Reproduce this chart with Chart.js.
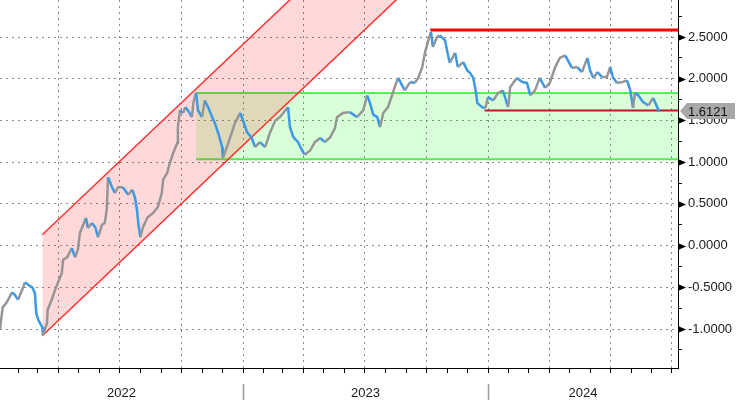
<!DOCTYPE html>
<html>
<head>
<meta charset="utf-8">
<script src="https://cdn.jsdelivr.net/npm/chart.js@4.4.1/dist/chart.umd.min.js"></script>
<style>
html, body { margin: 0; padding: 0; background: #fff; }
</style>
</head>
<body>
<canvas id="myChart" width="736" height="400"></canvas>
<script>
// Serie: dias desde el 1 de enero de 2022 y su valor
const dias = [3, 7, 12, 15, 21, 25, 30, 36, 40, 45, 51, 55, 57, 60, 66, 67, 73, 74, 80, 85,
    89, 95, 97, 103, 110, 115, 119, 122, 127, 131, 134, 140, 145, 149, 155, 159, 162, 164, 170, 174,
    179, 186, 194, 200, 204, 207, 209, 212, 216, 223, 231, 238, 244, 246, 252, 256, 261, 267, 268, 271,
    276, 279, 283, 289, 291, 295, 298, 304, 308, 313, 319, 323, 328, 334, 335, 341, 346, 353, 361, 365,
    371, 378, 383, 390, 398, 405, 413, 420, 428, 432, 435, 440, 447, 453, 457, 465, 472, 480, 487, 495,
    502, 505, 514, 524, 535, 544, 550, 554, 559, 565, 569, 574, 581, 587, 591, 596, 602, 606, 614, 621,
    626, 632, 636, 641, 645, 648, 654, 658, 666, 669, 673, 681, 685, 693, 699, 703, 708, 712, 714, 721,
    726, 730, 738, 745, 752, 760, 763, 773, 781, 788, 793, 800, 807, 815, 822, 830, 837, 845, 849, 855,
    863, 870, 878, 882, 887, 893, 900, 907, 912, 916, 922, 930, 937, 942, 946, 949, 954, 961, 969, 976,
    982, 985];
const valores = [-1.00, -0.74, -0.69, -0.65, -0.56, -0.59, -0.65, -0.53, -0.44, -0.47, -0.50, -0.57, -0.81, -0.89, -0.98, -1.07, -0.93, -0.77, -0.65, -0.53,
    -0.45, -0.33, -0.17, -0.14, -0.03, -0.14, -0.05, 0.15, 0.25, 0.33, 0.21, 0.27, 0.22, 0.10, 0.25, 0.27, 0.43, 0.82, 0.70, 0.63,
    0.70, 0.70, 0.61, 0.67, 0.58, 0.43, 0.27, 0.10, 0.22, 0.34, 0.39, 0.46, 0.63, 0.79, 0.87, 0.99, 1.11, 1.23, 1.42, 1.62,
    1.59, 1.66, 1.62, 1.54, 1.71, 1.83, 1.62, 1.54, 1.74, 1.66, 1.54, 1.47, 1.35, 1.18, 1.05, 1.18, 1.30, 1.47, 1.59, 1.50,
    1.36, 1.29, 1.18, 1.24, 1.18, 1.35, 1.50, 1.54, 1.62, 1.66, 1.42, 1.30, 1.24, 1.14, 1.09, 1.14, 1.24, 1.29, 1.24, 1.30,
    1.41, 1.54, 1.59, 1.60, 1.54, 1.62, 1.80, 1.71, 1.57, 1.54, 1.42, 1.59, 1.66, 1.80, 1.90, 2.01, 1.92, 1.86, 1.96, 1.95,
    2.01, 2.14, 2.31, 2.46, 2.56, 2.38, 2.50, 2.52, 2.46, 2.34, 2.19, 2.31, 2.14, 2.20, 2.10, 2.07, 2.01, 1.84, 1.71, 1.66,
    1.65, 1.78, 1.74, 1.83, 1.86, 1.66, 1.90, 2.01, 1.96, 1.95, 1.80, 1.86, 2.01, 1.89, 1.95, 2.14, 2.25, 2.28, 2.22, 2.13,
    2.14, 2.08, 2.25, 2.10, 2.01, 2.08, 2.02, 2.02, 2.14, 2.02, 1.95, 1.96, 1.98, 1.86, 1.65, 1.83, 1.80, 1.72, 1.68, 1.77,
    1.66, 1.6121];
const ultimoValor = 1.6121;

// Canal rojo (dos lineas paralelas)
const canalDias = [66, 700];
const canalArriba = [0.13, 4.97];
const canalAbajo = [-1.08, 3.76];

// Caja verde
const cajaDias = [295, 1020];
const cajaArriba = [1.83, 1.83];
const cajaAbajo = [1.035, 1.035];

// Lineas horizontales rojas
const maximoDias = [644, 1020];
const maximoValor = [2.585, 2.585];
const minimoDias = [725, 1020];
const minimoValor = [1.62, 1.62];

const anios = [2022, 2023, 2024];

const azul = '#3b99e6';
const gris = '#959595';
const fuente = { family: 'Liberation Sans, Arial, sans-serif', size: 13 };
const transparente = 'rgba(0,0,0,0)';

function diaDe(anio, mes) {
    return (Date.UTC(anio, mes, 1) - Date.UTC(2022, 0, 1)) / 864e5;
}

// Marcas mensuales y lineas de cuadricula trimestrales
const meses = [];
const trimestres = new Set();
for (const a of [2022, 2023, 2024]) {
    for (let m = 0; m < 12; m++) {
        const d = diaDe(a, m);
        if (d > 3 && d < 1013) {
            meses.push(d);
            if (m % 3 === 0) trimestres.add(d);
        }
    }
}

const esMayor = v => Math.abs(v * 2 - Math.round(v * 2)) < 1e-6;

function puntos(xs, ys) {
    return xs.map((x, i) => ({ x: x, y: ys[i] }));
}

// Dibujo extra: triangulos del eje, etiqueta del ultimo valor y los anios
const extras = {
    id: 'extras',
    afterDraw(chart) {
        const { ctx, chartArea } = chart;
        const x = chart.scales.x;
        const y = chart.scales.y;
        ctx.save();

        // triangulos en las marcas principales
        ctx.fillStyle = '#000';
        y.ticks.forEach(t => {
            if (!esMayor(t.value)) return;
            const py = Math.round(y.getPixelForValue(t.value)) + 0.5;
            ctx.beginPath();
            ctx.moveTo(chartArea.right, py - 3.5);
            ctx.lineTo(chartArea.right + 8, py);
            ctx.lineTo(chartArea.right, py + 3.5);
            ctx.closePath();
            ctx.fill();
        });

        // etiqueta gris del ultimo valor
        const py = y.getPixelForValue(ultimoValor);
        const x0 = chartArea.right + 2;
        ctx.fillStyle = '#a8a8a8';
        ctx.beginPath();
        ctx.moveTo(x0, py);
        ctx.lineTo(x0 + 7, py - 8);
        ctx.lineTo(735, py - 8);
        ctx.lineTo(735, py + 8);
        ctx.lineTo(x0 + 7, py + 8);
        ctx.closePath();
        ctx.fill();
        ctx.fillStyle = '#111';
        ctx.font = fuente.size + 'px ' + fuente.family;
        ctx.textBaseline = 'middle';
        ctx.textAlign = 'left';
        ctx.fillText(ultimoValor.toFixed(4), 688, py + 1);

        // anios y separadores
        ctx.textAlign = 'center';
        ctx.fillStyle = '#1a1a1a';
        anios.forEach(a => {
            const ini = Math.max(diaDe(a, 0), x.min);
            const fin = Math.min(diaDe(a + 1, 0), x.max);
            const cx = (x.getPixelForValue(ini) + x.getPixelForValue(fin)) / 2;
            ctx.fillText(String(a), cx, 393);
            if (diaDe(a, 0) > x.min) {
                const sx = Math.round(x.getPixelForValue(diaDe(a, 0))) + 0.5;
                ctx.strokeStyle = '#9a9a9a';
                ctx.lineWidth = 1.5;
                ctx.beginPath();
                ctx.moveTo(sx, 384);
                ctx.lineTo(sx, 400);
                ctx.stroke();
            }
        });
        ctx.restore();
    }
};

const cnv = document.getElementById('myChart');

new Chart(cnv, {
    type: 'line',
    data: {
        datasets: [
            {
                data: puntos(dias, valores),
                borderWidth: 2.5,
                pointRadius: 0,
                order: 0,
                segment: {
                    borderColor: c => c.p1.parsed.y < c.p0.parsed.y ? azul : gris
                },
                borderColor: azul
            },
            { data: puntos(maximoDias, maximoValor), borderColor: '#ff0000', borderWidth: 3, pointRadius: 0, order: 1 },
            { data: puntos(minimoDias, minimoValor), borderColor: '#c0142c', borderWidth: 2, pointRadius: 0, order: 1 },
            {
                data: puntos(canalDias, canalArriba), borderColor: '#ff3333', borderWidth: 1.5, pointRadius: 0,
                fill: '+1', backgroundColor: 'rgba(255,0,0,0.15)', order: 2
            },
            { data: puntos(canalDias, canalAbajo), borderColor: '#ff3333', borderWidth: 1.5, pointRadius: 0, order: 2 },
            {
                data: puntos(cajaDias, cajaArriba), borderColor: '#55ee55', borderWidth: 2, pointRadius: 0,
                fill: '+1', backgroundColor: 'rgba(0,255,0,0.15)', order: 3
            },
            { data: puntos(cajaDias, cajaAbajo), borderColor: '#55ee55', borderWidth: 2, pointRadius: 0, order: 3 }
        ]
    },
    options: {
        responsive: false,
        animation: false,
        devicePixelRatio: 1,
        layout: { padding: 0 },
        plugins: { legend: { display: false }, tooltip: { enabled: false } },
        scales: {
            x: {
                type: 'linear',
                min: 3,
                max: 1013,
                afterBuildTicks: s => { s.ticks = meses.map(d => ({ value: d })); },
                afterFit: s => { s.height = 32; s.paddingLeft = 0; s.paddingRight = 0; },
                grid: {
                    color: c => trimestres.has(c.tick && c.tick.value) ? '#8a8a8a' : transparente,
                    tickColor: '#000',
                    tickLength: 5,
                    lineWidth: 1
                },
                border: { color: '#000', width: 1, dash: [2, 4] },
                ticks: { autoSkip: false, maxRotation: 0, font: fuente, callback: () => '' }
            },
            y: {
                type: 'linear',
                position: 'right',
                min: -1.467,
                max: 2.944,
                afterBuildTicks: s => {
                    s.ticks = [];
                    for (let i = -5; i <= 11; i++) s.ticks.push({ value: i * 0.25 });
                },
                afterFit: s => { s.width = 58; s.paddingTop = 0; s.paddingBottom = 0; },
                grid: {
                    color: c => esMayor(c.tick ? c.tick.value : 0.1) ? '#8a8a8a' : transparente,
                    tickColor: '#000',
                    tickLength: 4,
                    lineWidth: 1
                },
                border: { color: '#000', width: 1, dash: [2, 4] },
                ticks: {
                    autoSkip: false,
                    padding: 6,
                    color: '#1a1a1a',
                    font: fuente,
                    callback: v => esMayor(v) ? v.toFixed(4) : ''
                }
            }
        }
    },
    plugins: [extras]
});
</script>
</body>
</html>
